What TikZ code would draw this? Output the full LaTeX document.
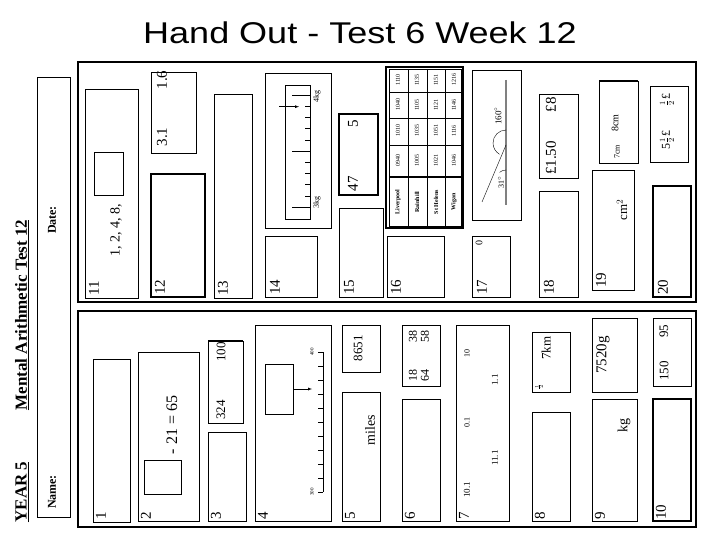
\documentclass[tikz,border=0pt]{standalone}
\usepackage{fontspec}
\setmainfont{Liberation Serif}
\newfontfamily\titlefont{Liberation Sans}
\begin{document}
\begin{tikzpicture}[x=1pt,y=-1pt,
  bx/.style={draw,line width=0.9pt},
  tbx/.style={draw,line width=1.8pt},
  rt/.style={rotate=90,inner sep=0pt,font=\fontsize{#1}{#1}\selectfont},
  rt/.default=14,
  num/.style={rotate=90,anchor=west,inner sep=0pt,font=\fontsize{15}{15}\selectfont}]
\useasboundingbox (0,0) rectangle (720,540);
\node[font=\titlefont\fontsize{30}{30}\selectfont,xscale=1.2] (title) at (360,33) {Hand Out - Test 6 Week 12};
% left strip
\draw[bx] (37,77) rectangle (70,517);
\node[rt=17,font=\bfseries\fontsize{17}{17}\selectfont] (yr) at (22,492) {\underline{YEAR 5}};
\node[rt=17,font=\bfseries\fontsize{17}{17}\selectfont] (mat) at (22,315) {\underline{Mental Arithmetic Test 12}};
\node[rt=12,font=\bfseries\fontsize{12}{12}\selectfont] (nm) at (52,492) {Name:};
\node[rt=12,font=\bfseries\fontsize{12}{12}\selectfont] (dt) at (52,220) {Date:};
% frames
\draw[line width=1.8pt] (78,62) rectangle (696,302);
\draw[line width=1.8pt] (78,311) rectangle (696,527);
% ---- top panel
\draw[bx] (85,89) rectangle (138,298); \node[num] (n11) at (94,296) {11};
\draw[bx] (94,152) rectangle (123,195);
\node[rt=14] (t11) at (116,230) {1, 2, 4, 8,};
\draw[bx] (151,72) rectangle (196,153);
\node[rt=15] (a16) at (162,80) {1.6}; \node[rt=15] (a31) at (162,137) {3.1};
\draw[tbx] (151,174) rectangle (205,297); \node[num] (n12) at (160,295) {12};
\draw[bx] (214,94) rectangle (252,298); \node[num] (n13) at (223,296) {13};
% scale 14
\draw[bx] (265,73) rectangle (331,228);
\draw[bx] (285,85) rectangle (310,219);
\foreach \i in {0,...,10}{\draw (305,{95+11.2*\i}) -- (310,{95+11.2*\i});}
\draw (292,95) -- (310,95); \draw (292,151) -- (310,151); \draw (292,207) -- (310,207);
\draw[-latex] (279,106.7) -- (299,106.7);
\node[rt=8] (k4) at (317,97) {4kg}; \node[rt=8] (k3) at (317,203) {3kg};
\draw[bx] (265,236) rectangle (317,297); \node[num] (n14) at (275,295) {14};
\draw[tbx] (339,114) rectangle (378,195);
\node[rt=15] (f5) at (353,124) {5}; \node[rt=15] (f47) at (353,184) {47};
\draw[bx] (339,208) rectangle (383,297); \node[num] (n15) at (349,295) {15};
% timetable
\draw[line width=1.5pt] (386,67) rectangle (463,228);
\draw[line width=0.6pt] (389,69) rectangle (461,226);
\foreach \x in {408,427,445}{\draw (\x,69) -- (\x,226);}
\foreach \y in {92,118,145}{\draw (389,\y) -- (461,\y);}
\draw[line width=1.5pt] (389,177) -- (461,177);
\foreach \x/\nm/\a/\b/\c/\d in {398/Liverpool/0940/1010/1040/1110, 417/Rainhill/1005/1035/1105/1135, 436/St Helens/1021/1051/1121/1151, 454/Wigan/1046/1116/1146/1216}{
  \node[rt=6,font=\bfseries\fontsize{6}{6}\selectfont] at (\x,202) {\nm};
  \node[rt=6] at (\x,161) {\a}; \node[rt=6] at (\x,131) {\b};
  \node[rt=6] at (\x,105) {\c}; \node[rt=6] at (\x,80) {\d};}
\draw[bx] (387,236) rectangle (444,297); \node[num] (n16) at (396,295) {16};
% angle
\draw[bx] (472,70) rectangle (521,220);
\draw[gray,line width=2pt] (506,80) -- (506,205);
\draw (482,202) -- (506,145);
\draw (506,130) arc[start angle=-90,end angle=-240,radius=13];
\draw (506,170) arc[start angle=-90,end angle=-130,radius=10];
\node[rt=9] (d160) at (498,116) {160$^\circ$};
\node[rt=8] (d31) at (501,182) {31$^\circ$};
\draw[bx] (472,236) rectangle (510,297); \node[num] (n17) at (482,295) {17};
\node[rt=10] (z0) at (479,243) {0};
\draw[bx] (539,94) rectangle (578,178);
\node[rt=15] (p8) at (551,105) {£8}; \node[rt=15] (p150) at (551,158) {£1.50};
\draw[bx] (539,191) rectangle (578,297); \node[num] (n18) at (549,295) {18};
\draw[bx] (599,81) rectangle (638,163); \draw[line width=2pt] (599,81) -- (638,81);
\node[rt=10] (c8) at (615,123) {8cm}; \node[rt=8] (c7) at (617,152) {7cm};
\draw[bx] (592,170) rectangle (634,290); \node[num] (n19) at (601,288) {19};
\node[rt=13] (cm2) at (622,210) {cm$^2$};
\draw[bx] (650,86) rectangle (688,162);
\node[rt=12] (h1) at (667,100) {$\frac12$£}; \node[rt=12] (h2) at (667,140) {5$\frac12$£};
\draw[tbx] (653,186) rectangle (691,297); \node[num] (n20) at (663,295) {20};
% ---- bottom panel
\draw[bx] (93,359) rectangle (130,522); \node[num] (m1) at (101,520) {1};
\draw[bx] (138,352) rectangle (199,521); \node[num] (m2) at (146,520) {2};
\draw[bx] (144,460) rectangle (181,494);
\node[rt=16] (eq) at (172,425) {- 21 = 65};
\draw[bx] (208,341) rectangle (243,423); \draw[line width=2pt] (208,341) -- (243,341);
\node[rt=13] (h100) at (221,352) {100}; \node[rt=13] (h324) at (221,410) {324};
\draw[bx] (208,432) rectangle (246,521); \node[num] (m3) at (216,520) {3};
\draw[bx] (255,325) rectangle (331,521); \node[num] (m4) at (263,520) {4};
\draw[bx] (265,364) rectangle (293,414);
\draw[-latex] (293,389) -- (312,389);
\draw (323,352) -- (323,492);
\foreach \i in {0,...,10}{\draw (318,{352+14*\i}) -- (323,{352+14*\i});}
\node[rt=5] (s400) at (312,352) {400}; \node[rt=5] (s300) at (312,492) {300};
\draw[bx] (342,325) rectangle (380,372); \node[rt=13] (v8651) at (358,348) {8651};
\draw[bx] (342,392) rectangle (380,521); \node[num] (m5) at (350,520) {5};
\node[rt=14] (mi) at (370,430) {miles};
\draw[bx] (402,325) rectangle (440,386);
\node[rt=12] at (413,336) {38}; \node[rt=12] at (425,336) {58};
\node[rt=12] at (413,375) {18}; \node[rt=12] at (425,375) {64};
\draw[bx] (402,399) rectangle (440,521); \node[num] (m6) at (410,520) {6};
\draw[bx] (456,325) rectangle (509,521); \node[num] (m7) at (464,520) {7};
\node[rt=8] at (467,353) {10}; \node[rt=9] at (495,380) {1.1};
\node[rt=8] at (467,422) {0.1}; \node[rt=9] at (495,458) {11.1};
\node[rt=9] at (467,490) {10.1};
\draw[bx] (532,332) rectangle (570,392); \node[rt=13] (km) at (546,348) {7km};
\node[rt=5] (hf) at (539,387) {$\frac12$};
\draw[bx] (532,412) rectangle (570,521); \node[num] (m8) at (540,520) {8};
\draw[bx] (592,318) rectangle (637,392); \node[rt=15] (g) at (603,355) {7520g};
\draw[bx] (592,399) rectangle (637,521); \node[num] (m9) at (600,520) {9};
\node[rt=14] (kg) at (624,425) {kg};
\draw[bx] (653,318) rectangle (691,386);
\node[rt=13] (a95) at (664,331) {95}; \node[rt=13] (a150) at (664,371) {150};
\draw[tbx] (653,399) rectangle (691,521); \node[num] (m10) at (661,520) {10};
\end{tikzpicture}
\end{document}
